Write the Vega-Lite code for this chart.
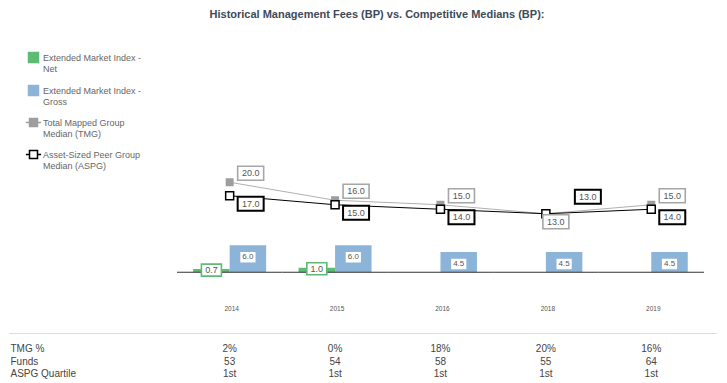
{
  "$schema": "https://vega.github.io/schema/vega-lite/v6.json",
  "padding": {"left": 9, "top": 0, "right": 0, "bottom": 0},
  "spacing": 0,
  "title": {
    "text": "Historical Management Fees (BP) vs. Competitive Medians (BP):",
    "font": "Liberation Sans",
    "fontSize": 11,
    "fontWeight": "bold",
    "color": "#3d4a5a",
    "anchor": "middle",
    "offset": -20,
    "dx": 14
  },
  "config": {
    "font": "Liberation Sans",
    "view": {"stroke": null},
    "axis": {"grid": false, "ticks": false}
  },
  "resolve": {"scale": {"color": "independent", "fill": "independent", "stroke": "independent", "shape": "independent"}, "legend": {"color": "independent", "fill": "independent", "stroke": "independent", "shape": "independent"}},
  "datasets": {
    "bars": [
      {"year": "2014", "series": "Extended Market Index - Net", "value": 0.7},
      {"year": "2014", "series": "Extended Market Index - Gross", "value": 6.0},
      {"year": "2015", "series": "Extended Market Index - Net", "value": 1.0},
      {"year": "2015", "series": "Extended Market Index - Gross", "value": 6.0},
      {"year": "2016", "series": "Extended Market Index - Gross", "value": 4.5},
      {"year": "2018", "series": "Extended Market Index - Gross", "value": 4.5},
      {"year": "2019", "series": "Extended Market Index - Gross", "value": 4.5}
    ],
    "medians": [
      {"year": "2014", "series": "Total Mapped Group Median (TMG)", "value": 20.0},
      {"year": "2015", "series": "Total Mapped Group Median (TMG)", "value": 16.0},
      {"year": "2016", "series": "Total Mapped Group Median (TMG)", "value": 15.0},
      {"year": "2018", "series": "Total Mapped Group Median (TMG)", "value": 13.0},
      {"year": "2019", "series": "Total Mapped Group Median (TMG)", "value": 15.0},
      {"year": "2014", "series": "Asset-Sized Peer Group Median (ASPG)", "value": 17.0},
      {"year": "2015", "series": "Asset-Sized Peer Group Median (ASPG)", "value": 15.0},
      {"year": "2016", "series": "Asset-Sized Peer Group Median (ASPG)", "value": 14.0},
      {"year": "2018", "series": "Asset-Sized Peer Group Median (ASPG)", "value": 13.0},
      {"year": "2019", "series": "Asset-Sized Peer Group Median (ASPG)", "value": 14.0}
    ],
    "table": [
      {"year": "2014", "row": "TMG %", "value": "2%"},
      {"year": "2015", "row": "TMG %", "value": "0%"},
      {"year": "2016", "row": "TMG %", "value": "18%"},
      {"year": "2018", "row": "TMG %", "value": "20%"},
      {"year": "2019", "row": "TMG %", "value": "16%"},
      {"year": "2014", "row": "Funds", "value": "53"},
      {"year": "2015", "row": "Funds", "value": "54"},
      {"year": "2016", "row": "Funds", "value": "58"},
      {"year": "2018", "row": "Funds", "value": "55"},
      {"year": "2019", "row": "Funds", "value": "64"},
      {"year": "2014", "row": "ASPG Quartile", "value": "1st"},
      {"year": "2015", "row": "ASPG Quartile", "value": "1st"},
      {"year": "2016", "row": "ASPG Quartile", "value": "1st"},
      {"year": "2018", "row": "ASPG Quartile", "value": "1st"},
      {"year": "2019", "row": "ASPG Quartile", "value": "1st"}
    ]
  },
  "vconcat": [
    {
      "width": 708,
      "height": 333,
      "resolve": {"axis": {"y": "independent"}},
      "layer": [
        {
          "data": {"name": "bars"},
          "mark": {"type": "bar"},
          "encoding": {
            "x": {
              "field": "year", "type": "nominal",
              "scale": {"type": "band", "domain": ["2014", "2015", "2016", "2018", "2019"], "paddingInner": 0, "paddingOuter": 0.8586, "align": 0.928},
              "axis": {"orient": "bottom", "offset": -61, "title": null, "domain": false, "labelFontSize": 6.5, "labelColor": "#555555", "labelPadding": 33, "labelOffset": 2, "labelAngle": 0}
            },
            "xOffset": {
              "field": "series", "type": "nominal",
              "scale": {"domain": ["Extended Market Index - Net", "Extended Market Index - Gross"], "paddingInner": 0, "paddingOuter": 0.444}
            },
            "y": {
              "field": "value", "type": "quantitative",
              "scale": {"domain": [-13.5, 60.5], "nice": false, "zero": false},
              "axis": {"orient": "right", "title": null, "labels": false, "domain": true, "domainColor": "#dddddd", "domainWidth": 1}
            },
            "fill": {
              "field": "series", "type": "nominal",
              "scale": {
                "domain": ["Extended Market Index - Net", "Extended Market Index - Gross", "Total Mapped Group Median (TMG)", "Asset-Sized Peer Group Median (ASPG)"],
                "range": ["#5dbb74", "#8cb4d8", "#9e9e9e", "#ffffff"]
              },
              "legend": {
                "orient": "none", "legendX": 19.5, "legendY": 52.5, "direction": "vertical", "columns": 1, "title": null, "padding": 0,
                "symbolSize": 64, "symbolStrokeWidth": 1.5, "symbolOpacity": 1, "symbolFillColor": "#ffffff",
                "labelFont": "Liberation Sans", "labelFontSize": 9, "labelColor": "#666666", "labelOffset": 4.5, "labelLimit": 300, "rowPadding": 9,
                "labelExpr": "indexof(datum.label, ' - ') >= 0 ? [substring(datum.label, 0, indexof(datum.label, ' - ') + 2), substring(datum.label, indexof(datum.label, ' - ') + 3)] : [substring(datum.label, 0, indexof(datum.label, ' Median')), substring(datum.label, indexof(datum.label, ' Median') + 1)]"
              }
            }
          }
        },
        {
          "data": {"name": "medians"},
          "mark": {"type": "point", "opacity": 0, "filled": true},
          "encoding": {
            "x": {"field": "year", "type": "nominal"},
            "y": {"field": "value", "type": "quantitative", "axis": null},
            "fill": {
              "field": "series", "type": "nominal",
              "legend": {
                "orient": "none", "legendX": 19.5, "legendY": 52.5, "direction": "vertical", "columns": 1, "title": null, "padding": 0,
                "symbolSize": 64, "symbolStrokeWidth": 1.5, "symbolOpacity": 1, "symbolFillColor": "#ffffff",
                "labelFont": "Liberation Sans", "labelFontSize": 9, "labelColor": "#666666", "labelOffset": 4.5, "labelLimit": 300, "rowPadding": 9,
                "labelExpr": "indexof(datum.label, ' - ') >= 0 ? [substring(datum.label, 0, indexof(datum.label, ' - ') + 2), substring(datum.label, indexof(datum.label, ' - ') + 3)] : [substring(datum.label, 0, indexof(datum.label, ' Median')), substring(datum.label, indexof(datum.label, ' Median') + 1)]"
              }
            },
            "stroke": {
              "field": "series", "type": "nominal",
              "scale": {
                "domain": ["Extended Market Index - Net", "Extended Market Index - Gross", "Total Mapped Group Median (TMG)", "Asset-Sized Peer Group Median (ASPG)"],
                "range": ["#5dbb74", "#8cb4d8", "#9e9e9e", "#000000"]
              },
              "legend": {
                "orient": "none", "legendX": 19.5, "legendY": 52.5, "direction": "vertical", "columns": 1, "title": null, "padding": 0,
                "symbolSize": 64, "symbolStrokeWidth": 1.5, "symbolOpacity": 1, "symbolFillColor": "#ffffff",
                "labelFont": "Liberation Sans", "labelFontSize": 9, "labelColor": "#666666", "labelOffset": 4.5, "labelLimit": 300, "rowPadding": 9,
                "labelExpr": "indexof(datum.label, ' - ') >= 0 ? [substring(datum.label, 0, indexof(datum.label, ' - ') + 2), substring(datum.label, indexof(datum.label, ' - ') + 3)] : [substring(datum.label, 0, indexof(datum.label, ' Median')), substring(datum.label, indexof(datum.label, ' Median') + 1)]"
              }
            },
            "shape": {
              "field": "series", "type": "nominal",
              "scale": {
                "domain": ["Extended Market Index - Net", "Extended Market Index - Gross", "Total Mapped Group Median (TMG)", "Asset-Sized Peer Group Median (ASPG)"],
                "range": ["M-1.25,-1.25L1.25,-1.25L1.25,1.25L-1.25,1.25Z", "M-1.25,-1.25L1.25,-1.25L1.25,1.25L-1.25,1.25Z", "M-1.9,0L-1,0M1,0L1.9,0M-1,-1L1,-1L1,1L-1,1Z", "M-1.9,0L-1,0M1,0L1.9,0M-1,-1L1,-1L1,1L-1,1Z"]
              },
              "legend": {
                "orient": "none", "legendX": 19.5, "legendY": 52.5, "direction": "vertical", "columns": 1, "title": null, "padding": 0,
                "symbolSize": 64, "symbolStrokeWidth": 1.5, "symbolOpacity": 1, "symbolFillColor": "#ffffff",
                "labelFont": "Liberation Sans", "labelFontSize": 9, "labelColor": "#666666", "labelOffset": 4.5, "labelLimit": 300, "rowPadding": 9,
                "labelExpr": "indexof(datum.label, ' - ') >= 0 ? [substring(datum.label, 0, indexof(datum.label, ' - ') + 2), substring(datum.label, indexof(datum.label, ' - ') + 3)] : [substring(datum.label, 0, indexof(datum.label, ' Median')), substring(datum.label, indexof(datum.label, ' Median') + 1)]"
              }
            }
          }
        },
        {
          "data": {"name": "medians"},
          "transform": [{"filter": "datum.series == 'Total Mapped Group Median (TMG)'"}],
          "mark": {"type": "tick", "orient": "horizontal", "size": 105.4, "thickness": 1, "color": "#333333", "opacity": 1},
          "encoding": {
            "x": {"field": "year", "type": "nominal"},
            "y": {"datum": 0, "type": "quantitative", "axis": null}
          }
        },
        {
          "data": {"name": "bars"},
          "transform": [{"filter": "datum.series == 'Extended Market Index - Net'"}],
          "mark": {"type": "point", "shape": "M-1.667,-1L1.667,-1L1.667,1L-1.667,1Z", "size": 144, "filled": true, "fill": "#ffffff", "stroke": "#5dbb74", "strokeWidth": 1.6, "opacity": 1, "yOffset": 1},
          "encoding": {
            "x": {"field": "year", "type": "nominal"},
            "xOffset": {"field": "series", "type": "nominal"},
            "y": {"field": "value", "type": "quantitative", "axis": null}
          }
        },
        {
          "data": {"name": "bars"},
          "transform": [{"filter": "datum.series == 'Extended Market Index - Net'"}],
          "mark": {"type": "text", "fontSize": 9, "color": "#555555", "yOffset": 1},
          "encoding": {
            "x": {"field": "year", "type": "nominal"},
            "xOffset": {"field": "series", "type": "nominal"},
            "y": {"field": "value", "type": "quantitative", "axis": null},
            "text": {"field": "value", "type": "quantitative", "format": ".1f"}
          }
        },
        {
          "data": {"name": "bars"},
          "transform": [{"filter": "datum.series == 'Extended Market Index - Gross'"}],
          "mark": {"type": "point", "shape": "M-1.45,-1L1.45,-1L1.45,1L-1.45,1Z", "size": 110, "filled": true, "fill": "#ffffff", "strokeWidth": 0, "opacity": 1, "yOffset": 12},
          "encoding": {
            "x": {"field": "year", "type": "nominal"},
            "xOffset": {"field": "series", "type": "nominal"},
            "y": {"field": "value", "type": "quantitative", "axis": null}
          }
        },
        {
          "data": {"name": "bars"},
          "transform": [{"filter": "datum.series == 'Extended Market Index - Gross'"}],
          "mark": {"type": "text", "fontSize": 8, "color": "#555555", "yOffset": 12},
          "encoding": {
            "x": {"field": "year", "type": "nominal"},
            "xOffset": {"field": "series", "type": "nominal"},
            "y": {"field": "value", "type": "quantitative", "axis": null},
            "text": {"field": "value", "type": "quantitative", "format": ".1f"}
          }
        },
        {
          "data": {"name": "medians"},
          "mark": {"type": "line", "strokeWidth": 1},
          "encoding": {
            "x": {"field": "year", "type": "nominal"},
            "y": {"field": "value", "type": "quantitative", "axis": null},
            "detail": {"field": "series", "type": "nominal"},
            "stroke": {"condition": {"test": "datum.series == 'Total Mapped Group Median (TMG)'", "value": "#b0b0b0"}, "value": "#000000"}
          }
        },
        {
          "data": {"name": "medians"},
          "mark": {"type": "point", "shape": "square", "size": 64, "filled": true, "opacity": 1},
          "encoding": {
            "x": {"field": "year", "type": "nominal"},
            "y": {"field": "value", "type": "quantitative", "axis": null},
            "fill": {"condition": {"test": "datum.series == 'Total Mapped Group Median (TMG)'", "value": "#9e9e9e"}, "value": "#ffffff"},
            "stroke": {"condition": {"test": "datum.series == 'Total Mapped Group Median (TMG)'", "value": "#9e9e9e"}, "value": "#000000"},
            "strokeWidth": {"condition": {"test": "datum.series == 'Total Mapped Group Median (TMG)'", "value": 0}, "value": 1.5}
          }
        },
        {
          "data": {"name": "medians"},
          "transform": [{"joinaggregate": [{"op": "max", "field": "value", "as": "hi"}, {"op": "min", "field": "value", "as": "lo"}], "groupby": ["year"]}],
          "mark": {
            "type": "point", "shape": "M-1.857,-1L1.857,-1L1.857,1L-1.857,1Z", "size": 196, "filled": true, "fill": "#ffffff", "opacity": 1,
            "xOffset": {"expr": "datum.hi == datum.lo ? (datum.series == 'Total Mapped Group Median (TMG)' ? 10 : 42) : 21"},
            "yOffset": {"expr": "datum.hi == datum.lo ? (datum.series == 'Total Mapped Group Median (TMG)' ? 8 : -17) : (datum.value == datum.hi ? -9 : 8)"}
          },
          "encoding": {
            "x": {"field": "year", "type": "nominal"},
            "y": {"field": "value", "type": "quantitative", "axis": null},
            "stroke": {"condition": {"test": "datum.series == 'Total Mapped Group Median (TMG)'", "value": "#a6a6a6"}, "value": "#000000"},
            "strokeWidth": {"condition": {"test": "datum.series == 'Total Mapped Group Median (TMG)'", "value": 1.6}, "value": 2}
          }
        },
        {
          "data": {"name": "medians"},
          "transform": [{"joinaggregate": [{"op": "max", "field": "value", "as": "hi"}, {"op": "min", "field": "value", "as": "lo"}], "groupby": ["year"]}],
          "mark": {
            "type": "text", "fontSize": 9, "color": "#555555",
            "xOffset": {"expr": "datum.hi == datum.lo ? (datum.series == 'Total Mapped Group Median (TMG)' ? 10 : 42) : 21"},
            "yOffset": {"expr": "datum.hi == datum.lo ? (datum.series == 'Total Mapped Group Median (TMG)' ? 8 : -17) : (datum.value == datum.hi ? -9 : 8)"}
          },
          "encoding": {
            "x": {"field": "year", "type": "nominal"},
            "y": {"field": "value", "type": "quantitative", "axis": null},
            "text": {"field": "value", "type": "quantitative", "format": ".1f"}
          }
        }
      ]
    },
    {
      "width": 708,
      "height": 57,
      "data": {"name": "table"},
      "mark": {"type": "text", "fontSize": 10, "color": "#444444"},
      "encoding": {
        "x": {
          "field": "year", "type": "nominal",
          "scale": {"type": "band", "domain": ["2014", "2015", "2016", "2018", "2019"], "paddingInner": 0, "paddingOuter": 0.8586, "align": 0.928},
          "axis": {"orient": "top", "labels": false, "title": null, "domainColor": "#dddddd", "domainWidth": 1}
        },
        "y": {
          "field": "row", "type": "nominal",
          "scale": {"type": "band", "domain": ["TMG %", "Funds", "ASPG Quartile"], "paddingInner": 0, "paddingOuter": 0.78},
          "axis": {"orient": "left", "title": null, "domain": false, "tickSize": 0, "labelAlign": "left", "labelPadding": -1, "labelFontSize": 10, "labelColor": "#444444"}
        },
        "text": {"field": "value", "type": "nominal"}
      }
    }
  ]
}
